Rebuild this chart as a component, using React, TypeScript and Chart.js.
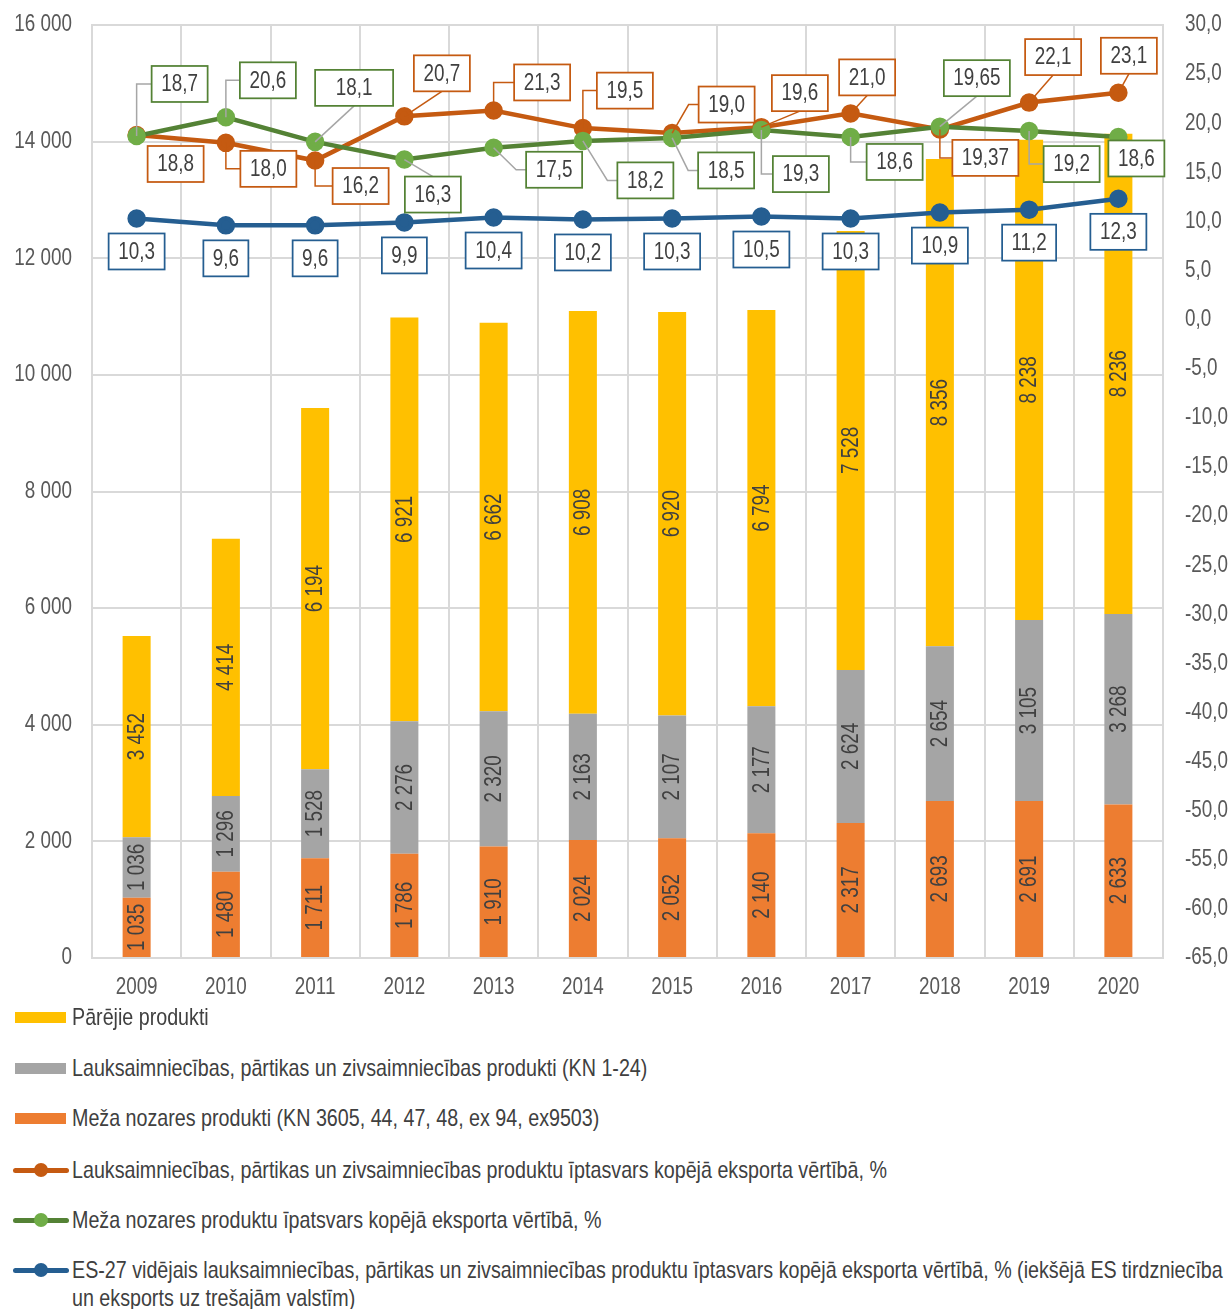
import React, { useEffect, useRef } from "react";
import { Chart, registerables } from "chart.js";

Chart.register(...registerables);

const FONT = "'Liberation Sans', Arial, sans-serif";
const SX = 0.82; // horizontal squeeze to imitate a narrow face
const FS = 23;
const LEGEND_FS = 24;

// ---------- data ----------
const years = ["2009", "2010", "2011", "2012", "2013", "2014", "2015", "2016", "2017", "2018", "2019", "2020"];
const forestProducts = [1035, 1480, 1711, 1786, 1910, 2024, 2052, 2140, 2317, 2693, 2691, 2633];
const agriProducts = [1036, 1296, 1528, 2276, 2320, 2163, 2107, 2177, 2624, 2654, 3105, 3268];
const otherProducts = [3452, 4414, 6194, 6921, 6662, 6908, 6920, 6794, 7528, 8356, 8238, 8236];
const agriShare = [18.8, 18.0, 16.2, 20.7, 21.3, 19.5, 19.0, 19.6, 21.0, 19.37, 22.1, 23.1];
const forestShare = [18.7, 20.6, 18.1, 16.3, 17.5, 18.2, 18.5, 19.3, 18.6, 19.65, 19.2, 18.6];
const euAgriShare = [10.3, 9.6, 9.6, 9.9, 10.4, 10.2, 10.3, 10.5, 10.3, 10.9, 11.2, 12.3];

const leftTicks = { min: 0, max: 16000, step: 2000 };
const rightTicks = { min: -65, max: 30, step: 5 };

const legendLabels = [
  "Pārējie produkti",
  "Lauksaimniecības, pārtikas un zivsaimniecības produkti (KN 1-24)",
  "Meža nozares produkti (KN 3605, 44, 47, 48, ex 94, ex9503)",
  "Lauksaimniecības, pārtikas un zivsaimniecības produktu īptasvars kopējā eksporta vērtībā, %",
  "Meža nozares produktu īpatsvars kopējā eksporta vērtībā, %",
  "ES-27 vidējais lauksaimniecības, pārtikas un zivsaimniecības produktu īptasvars kopējā eksporta vērtībā, % (iekšējā ES tirdzniecība\nun eksports uz trešajām valstīm)",
];

// ---------- label placement (style: offset of label box from its point, leader mode, optional width) ----------
type Place = [number, number, string, number?];
const agriLabelPlace: Place[] = [
  [39, 29, "n"], [42.5, 26, "s"], [45.5, 25.5, "s"], [37.5, -43, "v"], [48.5, -28, "s"], [42, -37.5, "s"],
  [54.5, -28.5, "s"], [38.5, -34, "v"], [16.5, -36, "v"], [45.5, 28.5, "s"], [24, -45.5, "v"], [10.5, -37, "v"],
];
const forestLabelPlace: Place[] = [
  [43, -52, "s"], [42, -37, "s"], [39, -54, "v", 78], [28.5, 35, "v"], [60.5, 22, "s"], [62.5, 39.5, "s"],
  [54, 32.5, "s"], [39.5, 44, "s"], [44, 25, "s"], [37, -48.5, "v"], [42.5, 33, "s"], [18, 21.5, "n"],
];
const euLabelPlace: Place[] = years.map(() => [0, 33, "n"] as Place);

const C = {
  yellow: "#FFC000",
  gray: "#A5A5A5",
  orangeBar: "#ED7D31",
  orangeLine: "#C55A11",
  greenLine: "#548235",
  greenPoint: "#70AD47",
  blue: "#255E91",
  grid: "#D9D9D9",
  tick: "#595959",
  text: "#404040",
  leader: "#A6A6A6",
};

const thousands = (v: number) => String(Math.round(v)).replace(/\B(?=(\d{3})+(?!\d))/g, " ");
const pct = (v: number) =>
  (Math.round(v * 100) % 10 !== 0 ? v.toFixed(2) : v.toFixed(1)).replace(".", ",");
const pct1 = (v: number) => v.toFixed(1).replace(".", ",");

function sText(ctx: CanvasRenderingContext2D, txt: string, x: number, y: number, align: CanvasTextAlign, rot = false) {
  ctx.save();
  ctx.translate(x, y);
  if (rot) ctx.rotate(-Math.PI / 2);
  ctx.scale(SX, 1);
  ctx.textAlign = align;
  ctx.textBaseline = "middle";
  ctx.fillText(txt, 0, 0);
  ctx.restore();
}

const labelPlugin = {
  id: "customLabels",
  afterDatasetsDraw(chart: any) {
    const ctx: CanvasRenderingContext2D = chart.ctx;
    ctx.save();
    ctx.font = `${FS}px ${FONT}`;
    // axis tick labels
    ctx.fillStyle = C.tick;
    const sx = chart.scales.x;
    years.forEach((yr, i) => sText(ctx, yr, sx.getPixelForValue(i), 988, "center"));
    const sy = chart.scales.y;
    for (let v = leftTicks.min; v <= leftTicks.max; v += leftTicks.step) {
      sText(ctx, thousands(v), chart.chartArea.left - 20, sy.getPixelForValue(v), "right");
    }
    const sy1 = chart.scales.y1;
    for (let v = rightTicks.min; v <= rightTicks.max; v += rightTicks.step) {
      sText(ctx, pct1(v), chart.chartArea.right + 22, sy1.getPixelForValue(v), "left");
    }
    // bar labels
    chart.data.datasets.forEach((ds: any, di: number) => {
      const meta = chart.getDatasetMeta(di);
      if (ds.type === "bar") {
        meta.data.forEach((el: any, i: number) => {
          const { x, y, base } = el.getProps(["x", "y", "base"], true);
          ctx.fillStyle = C.text;
          sText(ctx, thousands(ds.data[i]), x + 1, (y + base) / 2, "center", true);
        });
      }
    });
    // line labels
    chart.data.datasets.forEach((ds: any, di: number) => {
      const meta = chart.getDatasetMeta(di);
      if (ds.type !== "line") return;
      const places: Place[] = ds.labelPlace;
      meta.data.forEach((el: any, i: number) => {
        const { x, y } = el.getProps(["x", "y"], true);
        const [dx, dy, mode, wOverride] = places[i];
        const txt = pct(ds.data[i]);
        const tw = ctx.measureText(txt).width * SX;
        const w = wOverride ?? Math.round(tw + 19);
        const h = 36;
        const cx = x + dx;
        const cy = y + dy;
        const left = cx - w / 2;
        const top = cy - h / 2;
        if (mode !== "n") {
          ctx.beginPath();
          ctx.strokeStyle = ds.leaderColor;
          ctx.lineWidth = 1.5;
          ctx.moveTo(x, y);
          if (mode === "s") {
            const ex = left - x < 25 ? x : left - 10;
            ctx.lineTo(ex, cy);
            ctx.lineTo(left, cy);
          } else {
            ctx.lineTo(cx, dy < 0 ? top + h : top);
          }
          ctx.stroke();
        }
        ctx.fillStyle = "#FFFFFF";
        ctx.fillRect(left, top, w, h);
        ctx.strokeStyle = ds.boxColor;
        ctx.lineWidth = 1.75;
        ctx.strokeRect(left, top, w, h);
        ctx.fillStyle = C.text;
        sText(ctx, txt, cx, cy + 1, "center");
      });
    });
    ctx.restore();
  },
};

function LegendSwatch({ kind, color, point }: { kind: string; color: string; point?: string }) {
  if (kind === "bar") {
    return <div style={{ position: "absolute", left: 15, top: -5.5, width: 51, height: 11, background: color }} />;
  }
  return (
    <>
      <div style={{ position: "absolute", left: 13, top: -2.5, width: 56, height: 5, borderRadius: 3, background: color }} />
      <div style={{ position: "absolute", left: 34, top: -7, width: 14, height: 14, borderRadius: 7, background: point || color }} />
    </>
  );
}

export default function App() {
  const canvasRef = useRef<HTMLCanvasElement | null>(null);

  useEffect(() => {
    if (!canvasRef.current) return;
    Chart.defaults.font.family = FONT;
    const lineDs = (label: string, data: number[], line: string, pt: string, order: number, place: Place[], leader: string) =>
      ({
        type: "line",
        label,
        data,
        yAxisID: "y1",
        borderColor: line,
        backgroundColor: pt,
        pointBackgroundColor: pt,
        pointBorderColor: pt,
        pointRadius: 7,
        borderWidth: 4.5,
        tension: 0,
        order,
        labelPlace: place,
        leaderColor: leader,
        boxColor: line,
      }) as any;
    const barDs = (label: string, data: number[], color: string) =>
      ({
        type: "bar",
        label,
        data,
        yAxisID: "y",
        backgroundColor: color,
        stack: "s",
        order: 10,
        barPercentage: 0.314,
        categoryPercentage: 1,
      }) as any;

    const chart = new Chart(canvasRef.current, {
      type: "bar",
      data: {
        labels: years,
        datasets: [
          lineDs(legendLabels[4], forestShare, C.greenLine, C.greenPoint, 1, forestLabelPlace, C.leader),
          lineDs(legendLabels[3], agriShare, C.orangeLine, C.orangeLine, 2, agriLabelPlace, C.orangeLine),
          lineDs(legendLabels[5], euAgriShare, C.blue, C.blue, 3, euLabelPlace, C.blue),
          barDs(legendLabels[2], forestProducts, C.orangeBar),
          barDs(legendLabels[1], agriProducts, C.gray),
          barDs(legendLabels[0], otherProducts, C.yellow),
        ],
      },
      options: {
        animation: false,
        responsive: true,
        maintainAspectRatio: false,
        layout: { padding: { top: 25, left: 0, right: 0, bottom: 0 } },
        plugins: { legend: { display: false }, tooltip: { enabled: false }, title: { display: false } },
        scales: {
          x: {
            stacked: true,
            grid: { color: C.grid, lineWidth: 2, drawTicks: false, offset: true },
            border: { color: C.grid, width: 2 },
            ticks: { display: false },
            afterFit(s: any) {
              s.height = 47;
            },
          },
          y: {
            stacked: true,
            position: "left",
            min: leftTicks.min,
            max: leftTicks.max,
            ticks: { display: false, stepSize: leftTicks.step },
            grid: { color: C.grid, lineWidth: 2, drawTicks: false },
            border: { color: C.grid, width: 2 },
            afterFit(s: any) {
              s.width = 92;
            },
          },
          y1: {
            position: "right",
            min: rightTicks.min,
            max: rightTicks.max,
            ticks: { display: false, stepSize: rightTicks.step },
            grid: { display: false, drawTicks: false },
            border: { color: C.grid, width: 2 },
            afterFit(s: any) {
              s.width = 66;
            },
          },
        },
      } as any,
      plugins: [labelPlugin],
    });
    return () => chart.destroy();
  }, []);

  const legendItems = [
    { kind: "bar", color: C.yellow, top: 1017 },
    { kind: "bar", color: C.gray, top: 1068 },
    { kind: "bar", color: C.orangeBar, top: 1118 },
    { kind: "line", color: C.orangeLine, point: C.orangeLine, top: 1170 },
    { kind: "line", color: C.greenLine, point: C.greenPoint, top: 1220 },
    { kind: "line", color: C.blue, point: C.blue, top: 1270 },
  ];

  return (
    <div style={{ position: "absolute", left: 0, top: 0, width: 1229, height: 1309, background: "#fff", overflow: "hidden" }}>
      <div style={{ position: "absolute", left: 0, top: 0, width: 1229, height: 1005 }}>
        <canvas ref={canvasRef} />
      </div>
      {legendItems.map((it, i) => (
        <div key={i} style={{ position: "absolute", left: 0, top: it.top, width: 1229, height: 0 }}>
          <LegendSwatch kind={it.kind} color={it.color} point={(it as any).point} />
          <div
            style={{
              position: "absolute",
              left: 72,
              top: -14,
              width: 1500,
              font: `${LEGEND_FS}px ${FONT}`,
              lineHeight: "28px",
              color: C.text,
              whiteSpace: "pre",
              transform: `scaleX(${SX})`,
              transformOrigin: "0 0",
            }}
          >
            {legendLabels[i]}
          </div>
        </div>
      ))}
    </div>
  );
}
